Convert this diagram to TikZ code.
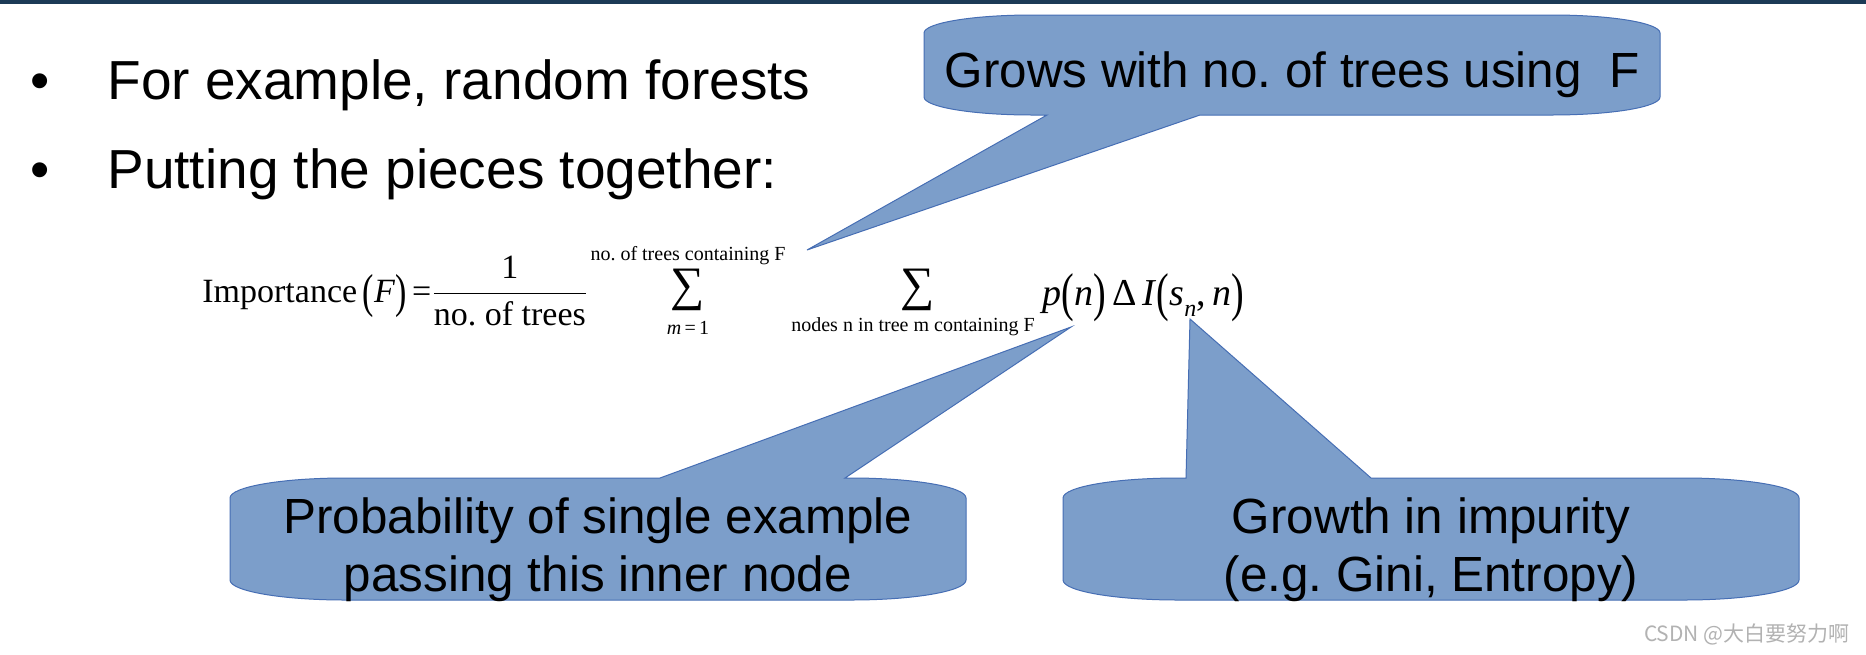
\documentclass[tikz,border=0pt]{standalone}
\usepackage{fontspec}
\usepackage{graphicx}
\setmainfont{Liberation Sans}
\newfontfamily\serifmath{Liberation Serif}
\newfontfamily\cjkmark{Noto Sans CJK SC}
\usetikzlibrary{positioning}
\frenchspacing

\definecolor{topbar}{RGB}{28,58,86}
\definecolor{bubblefill}{RGB}{124,158,202}
\definecolor{bubbleedge}{RGB}{70,110,180}
\newcommand{\tallparen}[1]{\raisebox{-0.15em}{\scalebox{1}[1.4]{#1}}}
\newcommand{\lowsub}[1]{\raisebox{-0.3em}{\fontsize{12}{14}\selectfont#1}}

\begin{document}
\begin{tikzpicture}[
        x=0.5pt, y=-0.5pt,
        bubble/.style={fill=bubblefill, draw=bubbleedge, line width=0.5pt},
        bubbletext/.style={font=\fontsize{24.7}{29}\selectfont, align=center, inner sep=0pt},
        bullettext/.style={font=\fontsize{27.5}{33}\selectfont, anchor=base west, inner sep=0pt},
        dot/.style={font=\fontsize{27.5}{33}\selectfont, anchor=base, inner sep=0pt},
        formula/.style={font=\serifmath\fontsize{17}{20}\selectfont, inner sep=0pt},
        bigsum/.style={font=\serifmath\fontsize{24}{27}\selectfont, inner sep=0pt},
        limit/.style={font=\serifmath\fontsize{10}{12}\selectfont, inner sep=0pt, anchor=base}
    ]

    \useasboundingbox (0,0) rectangle (1866,654);
    \fill[white] (0,0) rectangle (1866,654);
    \fill[topbar] (0,0) rectangle (1866,4);

    % bullets
    \node[dot] (dotA) at (40,99) {•};
    \node[bullettext] (lineA) at (107,99) {For example, random forests};
    \node[dot] (dotB) at (40,188) {•};
    \node[bullettext] (lineB) at (107,188) {Putting the pieces together:};

    % formula
    \node[formula, anchor=base west] (imp) at (202,302)
        {Importance\,\tallparen{(}\textit{F}\tallparen{)}\,=$\displaystyle\frac{\hbox{1}}{\hbox{no. of trees}}$};
    \node[bigsum] (sumA) at (688,290) {∑};
    \node[limit] (topA) at (688,260) {no. of trees containing F};
    \node[limit] (botA) at (688,334) {\textit{m}\,=\,1};
    \node[bigsum] (sumB) at (918,290) {∑};
    \node[limit] (botB) at (913,331) {nodes n in tree m containing F};
    \node[formula, anchor=base west, font=\serifmath\fontsize{19}{22}\selectfont] (term) at (1042,305)
        {\textit{p}\tallparen{(}\textit{n}\tallparen{)}\,Δ\,\textit{I}\tallparen{(}\textit{s}\lowsub{\textit{n}},\,\textit{n}\tallparen{)}};

    % callouts
    \draw[bubble] (924,33) arc[start angle=180, end angle=270, x radius=108, y radius=18]
        -- (1552,15) arc[start angle=270, end angle=360, x radius=108, y radius=18]
        -- (1660,97) arc[start angle=0, end angle=90, x radius=108, y radius=18]
        -- (1200,115) -- (807,250) -- (1047,115)
        -- (1032,115) arc[start angle=90, end angle=180, x radius=108, y radius=18] -- cycle;
    \node[bubbletext, anchor=base] (grows) at (1292,87) {Grows with no. of trees using \ F};

    \draw[bubble] (230,498) arc[start angle=180, end angle=270, x radius=115, y radius=20]
        -- (660,478) -- (1071,327) -- (845,478)
        -- (851,478) arc[start angle=270, end angle=360, x radius=115, y radius=20]
        -- (966,580) arc[start angle=0, end angle=90, x radius=115, y radius=20]
        -- (345,600) arc[start angle=90, end angle=180, x radius=115, y radius=20] -- cycle;
    \node[bubbletext] (prob) at (598,550) {Probability of single example\\passing this inner node};

    \draw[bubble] (1063,498) arc[start angle=180, end angle=270, x radius=115, y radius=20]
        -- (1186,478) -- (1190,319) -- (1371,478)
        -- (1684,478) arc[start angle=270, end angle=360, x radius=115, y radius=20]
        -- (1799,580) arc[start angle=0, end angle=90, x radius=115, y radius=20]
        -- (1178,600) arc[start angle=90, end angle=180, x radius=115, y radius=20] -- cycle;
    \node[bubbletext] (impurity) at (1431,550) {Growth in impurity\\(e.g. Gini, Entropy)};

    \node[anchor=base east, font=\cjkmark\fontsize{10.5}{12}\selectfont, text=gray!60, inner sep=0pt] (mark) at (1850,641) {CSDN @大白要努力啊};

\end{tikzpicture}
\end{document}
